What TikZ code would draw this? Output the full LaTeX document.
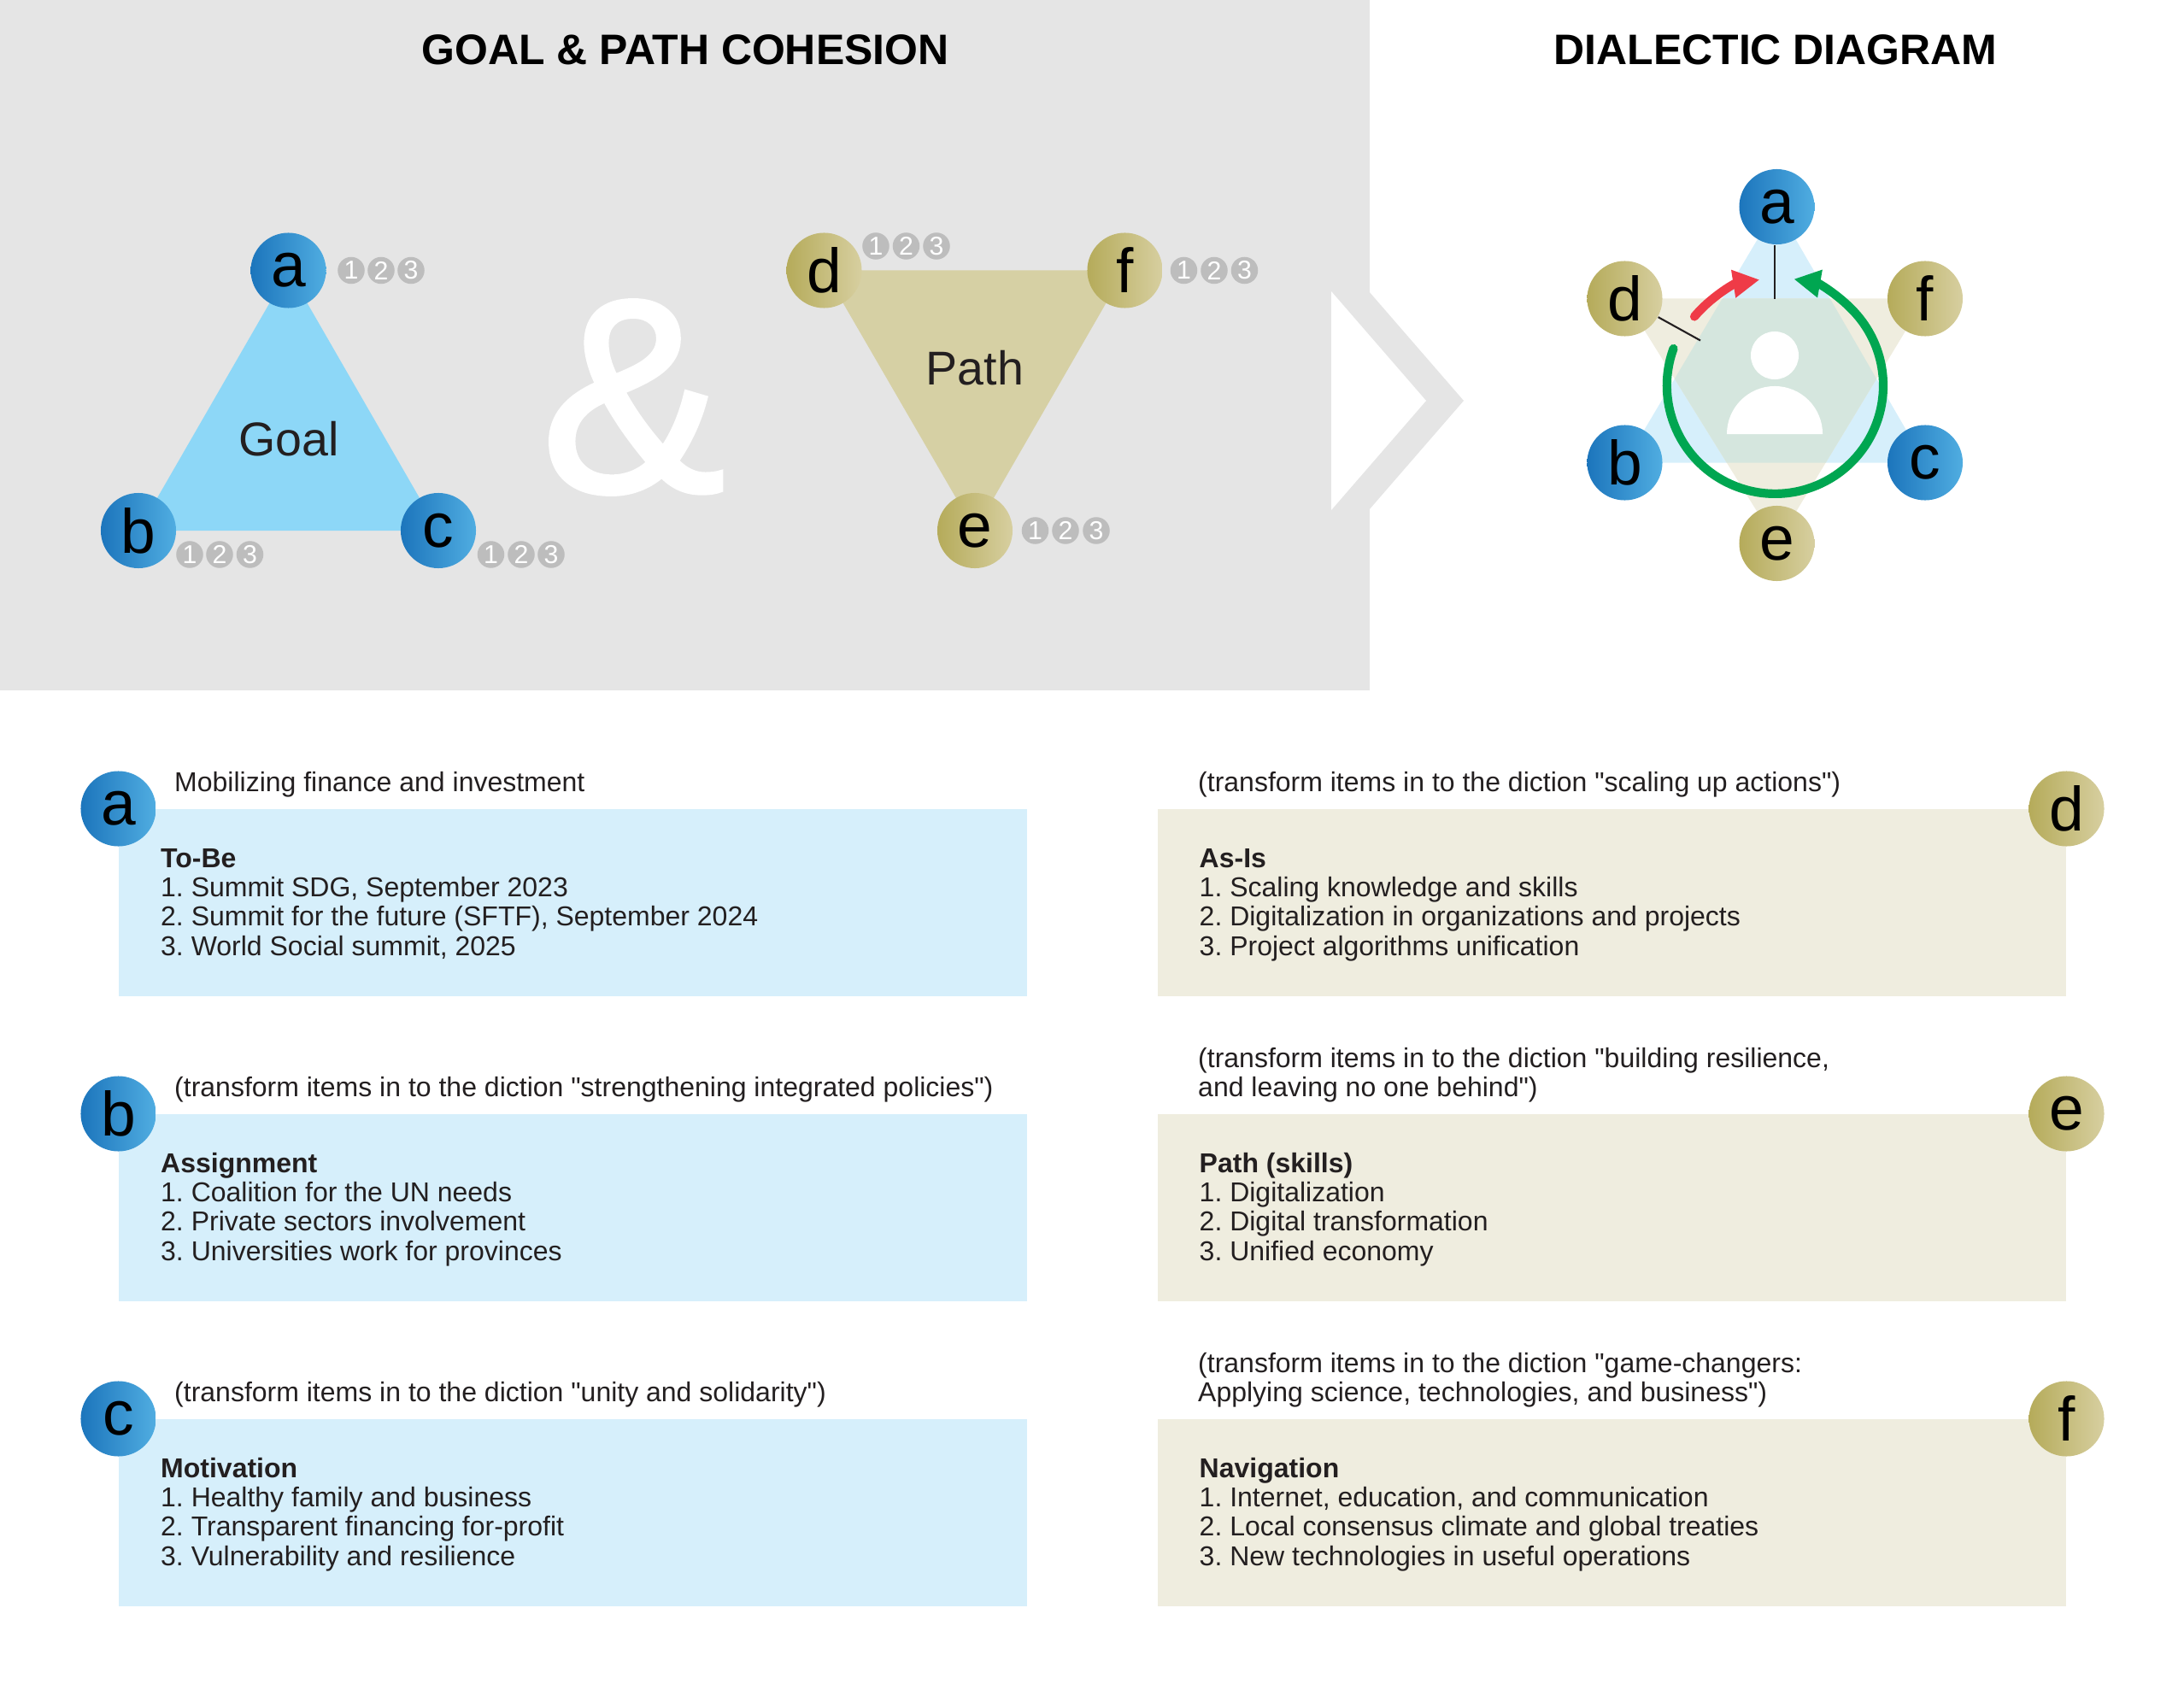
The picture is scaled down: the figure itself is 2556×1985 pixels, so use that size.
\documentclass[tikz,border=0pt]{standalone}
\usepackage{fontspec}
\setmainfont{Liberation Sans}[Ligatures=TeXOff]
\newfontfamily\ampfont{Liberation Sans}[FakeBold=1.5]
\usetikzlibrary{calc, positioning}
\usetikzlibrary{arrows.meta}
\definecolor{panelgray}{HTML}{E5E5E5}
\definecolor{goalblue}{HTML}{8DD7F7}
\definecolor{pathtan}{HTML}{D6D0A4}
\definecolor{lightblue}{HTML}{D6EFFB}
\definecolor{lighttan}{HTML}{EFEDDF}
\definecolor{overlapgreen}{HTML}{D5E6DE}
\definecolor{badgegray}{HTML}{BDBDBD}
\definecolor{bodyink}{HTML}{231F20}
\definecolor{arrowgreen}{HTML}{00A651}
\definecolor{arrowred}{HTML}{EF3B47}
\definecolor{bluedark}{HTML}{1C75BC}
\definecolor{bluebright}{HTML}{50ADE1}
\definecolor{tandark}{HTML}{B5AB5A}
\definecolor{tanbright}{HTML}{D7CFA0}
\tikzset{
  letter/.style={circle, inner sep=0pt, minimum size=0.88cm, text=black, font=\fontsize{20.8}{20.8}\selectfont},
  bluedot/.style={letter, left color=bluedark, right color=bluebright},
  tandot/.style={letter, left color=tandark, right color=tanbright},
  badge/.style={circle, fill=badgegray, inner sep=0pt, minimum size=0.315cm, text=white, font=\fontsize{8.6}{8.6}\selectfont},
  title/.style={inner sep=0pt, text=black, font=\fontsize{14.2}{14.2}\selectfont\bfseries},
  bigword/.style={inner sep=0pt, anchor=base, text=bodyink, font=\fontsize{15.8}{15.8}\selectfont},
  bluebox/.style={rectangle, fill=lightblue, inner sep=0pt, anchor=north west, minimum width=10.62cm, minimum height=2.19cm},
  tanbox/.style={rectangle, fill=lighttan, inner sep=0pt, anchor=north west, minimum width=10.62cm, minimum height=2.19cm},
  bodytext/.style={inner sep=0pt, anchor=base west, align=left, text=bodyink, font=\fontsize{9.1}{9.7}\selectfont\frenchspacing},
}
\begin{document}
\begin{tikzpicture}[x=0.01cm, y=-0.01cm]
\useasboundingbox (0,0) rectangle (2556,1985);

% top panel and chevron
\fill[panelgray] (0,0) rectangle (1603,808);
\fill[panelgray] (1602,341) -- (1713,469) -- (1602,597) -- cycle;
\fill[white] (1558,341) -- (1669,469) -- (1558,597) -- cycle;
\node[title] (titleleft) at (802,58) {GOAL \& PATH COHESION};
\node[title] (titleright) at (2078,58) {DIALECTIC DIAGRAM};
\node[inner sep=0pt, text=white, font=\ampfont\fontsize{92}{92}\selectfont] (amp) at (741,465) {\&};

% goal triangle
\coordinate (GA) at (337.5,316.5);
\coordinate (GB) at (162,621);
\coordinate (GC) at (513,621);
\fill[goalblue] (GA) -- (GB) -- (GC) -- cycle;
\node[bigword] (goal) at (338,533) {Goal};
\node[bluedot] (ga) at (GA) {a};
\node[bluedot] (gb) at (GB) {b};
\node[bluedot] (gc) at (GC) {c};
\node[badge] (ga1) at (411,316.5) {1};
\node[badge] (ga2) at (446,316.5) {2};
\node[badge] (ga3) at (481,316.5) {3};
\node[badge] (gb1) at (222,649) {1};
\node[badge] (gb2) at (257,649) {2};
\node[badge] (gb3) at (292.5,649) {3};
\node[badge] (gc1) at (574.5,649) {1};
\node[badge] (gc2) at (610,649) {2};
\node[badge] (gc3) at (645,649) {3};

% path triangle
\coordinate (PD) at (964.5,316.5);
\coordinate (PF) at (1316.5,316.5);
\coordinate (PE) at (1141,621);
\fill[pathtan] (PD) -- (PF) -- (PE) -- cycle;
\node[bigword] (path) at (1141,451) {Path};
\node[tandot] (pd) at (PD) {d};
\node[tandot] (pf) at (PF) {f};
\node[tandot] (pe) at (PE) {e};
\node[badge] (pd1) at (1025,288) {1};
\node[badge] (pd2) at (1060.5,288) {2};
\node[badge] (pd3) at (1096,288) {3};
\node[badge] (pf1) at (1385.5,316.5) {1};
\node[badge] (pf2) at (1421,316.5) {2};
\node[badge] (pf3) at (1456.5,316.5) {3};
\node[badge] (pe1) at (1211.5,621) {1};
\node[badge] (pe2) at (1247,621) {2};
\node[badge] (pe3) at (1283,621) {3};

% dialectic star
\coordinate (DA) at (2079.5,242);
\coordinate (DB) at (1901.5,541.5);
\coordinate (DC) at (2253,541.5);
\coordinate (DD) at (1901.5,349.5);
\coordinate (DE) at (2079.5,636);
\coordinate (DF) at (2253,349.5);
\fill[lightblue] (DA) -- (DB) -- (DC) -- cycle;
\fill[lighttan] (DD) -- (DE) -- (DF) -- cycle;
\begin{scope}
\clip (DA) -- (DB) -- (DC) -- cycle;
\fill[overlapgreen] (DD) -- (DE) -- (DF) -- cycle;
\end{scope}
\fill[white] (2077,416) circle[radius=0.28cm];
\fill[white] (2021,508) arc[start angle=180, end angle=0, radius=0.56cm] -- cycle;
\node[bluedot] (da) at (DA) {a};
\node[bluedot] (db) at (DB) {b};
\node[bluedot] (dc) at (DC) {c};
\node[tandot] (dd) at (DD) {d};
\node[tandot] (de) at (DE) {e};
\node[tandot] (df) at (DF) {f};
\coordinate (daend) at (2077,350);
\coordinate (ddend) at (1990,398.5);
\draw[line width=0.6pt, bodyink] (da.south -| daend) -- (daend);
\draw[line width=0.6pt, bodyink] (dd) -- (ddend);
\draw[arrowgreen, line width=2.9pt, line cap=round, -{Triangle[length=0.31cm, width=0.31cm]}]
    (1958.5,408) arc[start angle=160, end angle=440, radius=1.265cm];
\draw[arrowred, line width=2.9pt, line cap=round, -{Triangle[length=0.31cm, width=0.31cm]}]
    (1983,370.5) arc[start angle=140, end angle=99, radius=1.25cm];

% goal boxes
\node[bluebox] (boxa) at (138.5,946.5) {};
\node[bluebox] (boxb) at (138.5,1303.5) {};
\node[bluebox] (boxc) at (138.5,1660.5) {};
\node[bluedot] (labela) at (boxa.north west) {a};
\node[bluedot] (labelb) at (boxb.north west) {b};
\node[bluedot] (labelc) at (boxc.north west) {c};
\node[bodytext] (capa) at ($(boxa.north west)+(65,-20)$) {Mobilizing finance and investment};
\node[bodytext] (capb) at ($(boxb.north west)+(65,-20)$) {(transform items in to the diction "strengthening integrated policies")};
\node[bodytext] (capc) at ($(boxc.north west)+(65,-20)$) {(transform items in to the diction "unity and solidarity")};
\node[bodytext] (texta) at ($(boxa.north west)+(49,171.5)$) {\textbf{To-Be}\\1. Summit SDG, September 2023\\2. Summit for the future (SFTF), September 2024\\3. World Social summit, 2025};
\node[bodytext] (textb) at ($(boxb.north west)+(49,171.5)$) {\textbf{Assignment}\\1. Coalition for the UN needs\\2. Private sectors involvement\\3. Universities work for provinces};
\node[bodytext] (textc) at ($(boxc.north west)+(49,171.5)$) {\textbf{Motivation}\\1. Healthy family and business\\2. Transparent financing for-profit\\3. Vulnerability and resilience};

% path boxes
\node[tanbox] (boxd) at (1354.5,946.5) {};
\node[tanbox] (boxe) at (1354.5,1303.5) {};
\node[tanbox] (boxf) at (1354.5,1660.5) {};
\node[tandot] (labeld) at (boxd.north east) {d};
\node[tandot] (labele) at (boxe.north east) {e};
\node[tandot] (labelf) at (boxf.north east) {f};
\node[bodytext] (capd) at ($(boxd.north west)+(47,-20)$) {(transform items in to the diction "scaling up actions")};
\node[bodytext] (cape) at ($(boxe.north west)+(47,-20)$) {(transform items in to the diction "building resilience,\\and leaving no one behind")};
\node[bodytext] (capf) at ($(boxf.north west)+(47,-20)$) {(transform items in to the diction "game-changers:\\Applying science, technologies, and business")};
\node[bodytext] (textd) at ($(boxd.north west)+(48.5,171.5)$) {\textbf{As-Is}\\1. Scaling knowledge and skills\\2. Digitalization in organizations and projects\\3. Project algorithms unification};
\node[bodytext] (texte) at ($(boxe.north west)+(48.5,171.5)$) {\textbf{Path (skills)}\\1. Digitalization\\2. Digital transformation\\3. Unified economy};
\node[bodytext] (textf) at ($(boxf.north west)+(48.5,171.5)$) {\textbf{Navigation}\\1. Internet, education, and communication\\2. Local consensus climate and global treaties\\3. New technologies in useful operations};
\end{tikzpicture}
\end{document}
